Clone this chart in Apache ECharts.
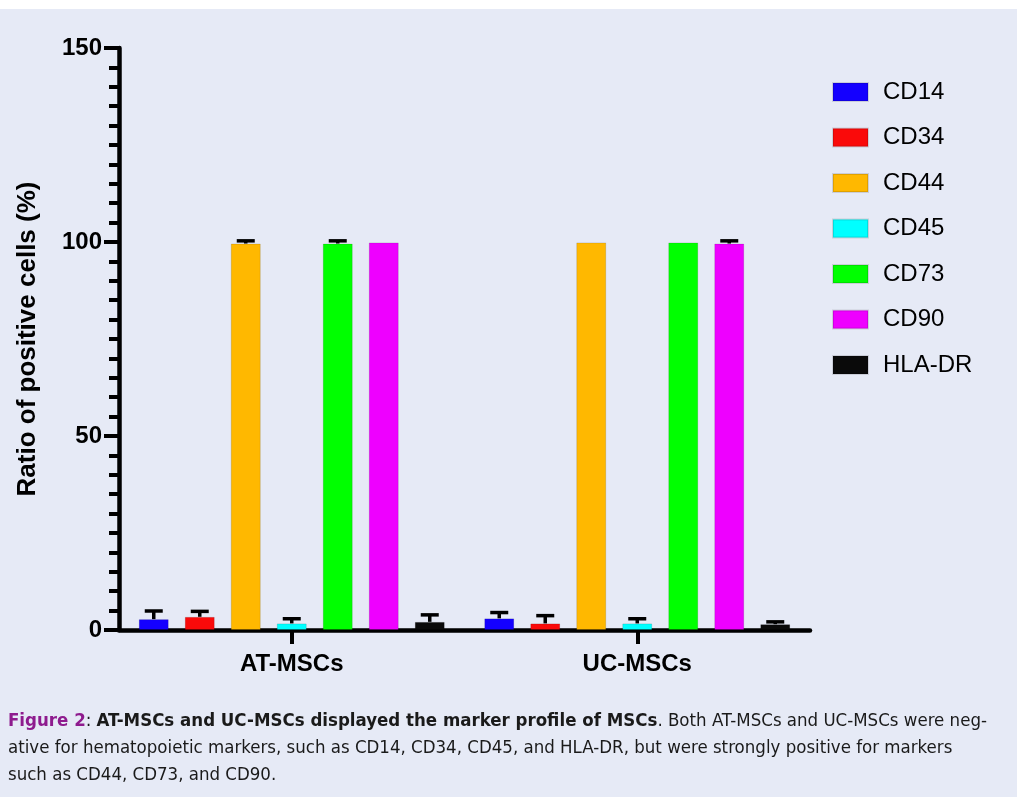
<!DOCTYPE html>
<html>
<head>
<meta charset="utf-8">
<script src="https://cdn.jsdelivr.net/npm/echarts@6/dist/echarts.min.js"></script>
<style>
html,body{margin:0;padding:0;background:#ffffff;}
#chart{position:absolute;left:0;top:9px;width:1017px;height:788px;}
</style>
</head>
<body>
<div id="chart"></div>
<script>
// ---- data ----
var categories = ['AT-MSCs', 'UC-MSCs'];
var markers = ['CD14', 'CD34', 'CD44', 'CD45', 'CD73', 'CD90', 'HLA-DR'];
var atMeans  = [2.8, 3.4, 99.6, 1.7, 99.6, 99.9, 2.1];
var atErrors = [2.1, 1.4, 0.7, 1.2, 0.7, 0, 1.8];
var ucMeans  = [3.0, 1.7, 99.9, 1.7, 99.9, 99.6, 1.5];
var ucErrors = [1.5, 2.0, 0, 1.2, 0, 0.7, 0.6];
var yTicks = [0, 50, 100, 150];

var colors = ['#1400ff', '#fa0a0a', '#ffb800', '#00ffff', '#00ff00', '#ee00ff', '#0a0a0a'];
var BAR_W = 30, BAR_GAP = 16;

var chart = echarts.init(document.getElementById('chart'));
var series = [];
markers.forEach(function (m, i) {
  series.push({
    name: m, type: 'bar',
    barWidth: BAR_W, barGap: (BAR_GAP / BAR_W * 100) + '%',
    itemStyle: { color: colors[i], borderColor: 'rgba(0,0,0,0.12)', borderWidth: 1 },
    data: [atMeans[i], ucMeans[i]],
    z: 2
  });
});
markers.forEach(function (m, i) {
  var offset = (i - (markers.length - 1) / 2) * (BAR_W + BAR_GAP);
  series.push({
    name: 'err-' + m, type: 'custom', z: 5, silent: true,
    data: [[0, atMeans[i], atErrors[i]], [1, ucMeans[i], ucErrors[i]]],
    renderItem: function (params, api) {
      var err = api.value(2);
      if (!err) return null;
      var c = api.coord([api.value(0), api.value(1)]);
      var t = api.coord([api.value(0), api.value(1) + err]);
      var x = c[0] + offset;
      var style = { stroke: '#000', lineWidth: 3.5, fill: null };
      return {
        type: 'group',
        children: [
          { type: 'line', shape: { x1: x, y1: c[1], x2: x, y2: t[1] }, style: style },
          { type: 'line', shape: { x1: x - 9, y1: t[1], x2: x + 9, y2: t[1] }, style: style }
        ]
      };
    }
  });
});

var CAP_FONT = "'Liberation Sans Narrow', 'DejaVu Sans Condensed', sans-serif";
var caption = '{fig|Figure 2}: {b|AT-MSCs and UC-MSCs displayed the marker profile of MSCs}. Both AT-MSCs and UC-MSCs were neg-\n' +
  'ative for hematopoietic markers, such as CD14, CD34, CD45, and HLA-DR, but were strongly positive for markers\n' +
  'such as CD44, CD73, and CD90.';

chart.setOption({
  backgroundColor: '#e6eaf6',
  animation: false,
  title: {
    text: caption,
    left: 3, top: 694,
    textStyle: {
      fontFamily: CAP_FONT,
      fontSize: 18.5, fontWeight: 'normal', color: '#1a1a1a', lineHeight: 27,
      rich: {
        fig: { color: '#8e1b8e', fontWeight: 'bold', fontSize: 18.5, lineHeight: 27, fontFamily: CAP_FONT },
        b: { fontWeight: 'bold', fontSize: 18.5, lineHeight: 27, color: '#1a1a1a', fontFamily: CAP_FONT }
      }
    }
  },
  legend: {
    data: markers, orient: 'vertical', left: 827, top: 66,
    icon: 'rect', itemWidth: 35, itemHeight: 18, itemGap: 21.5,
    textStyle: { fontFamily: "'Liberation Sans', Arial, sans-serif", fontSize: 24, lineHeight: 24, color: '#000', padding: [0, 0, 0, 10] }
  },
  grid: { left: 119, right: 207, top: 39, bottom: 167 },
  xAxis: {
    type: 'category', data: categories,
    axisLine: { show: true, lineStyle: { color: '#000', width: 4.5 } },
    axisTick: { show: true, interval: 0, alignWithLabel: true, length: 14, lineStyle: { color: '#000', width: 4 } },
    axisLabel: { color: '#000', fontFamily: "'Liberation Sans', Arial, sans-serif", fontWeight: 'bold', fontSize: 24, margin: 22 }
  },
  yAxis: {
    type: 'value', min: yTicks[0], max: yTicks[yTicks.length - 1], interval: 50,
    name: 'Ratio of positive cells (%)', nameLocation: 'middle', nameGap: 78,
    nameTextStyle: { color: '#000', fontFamily: "'Liberation Sans', Arial, sans-serif", fontWeight: 'bold', fontSize: 26 },
    axisLine: { show: true, lineStyle: { color: '#000', width: 4.5 } },
    axisTick: { show: true, length: 15, lineStyle: { color: '#000', width: 4 } },
    minorTick: { show: true, splitNumber: 10, length: 10, lineStyle: { color: '#000', width: 4 } },
    splitLine: { show: false },
    axisLabel: { color: '#000', fontFamily: "'Liberation Sans', Arial, sans-serif", fontWeight: 'bold', fontSize: 24, margin: 17 }
  },
  series: series
});
</script>
</body>
</html>
